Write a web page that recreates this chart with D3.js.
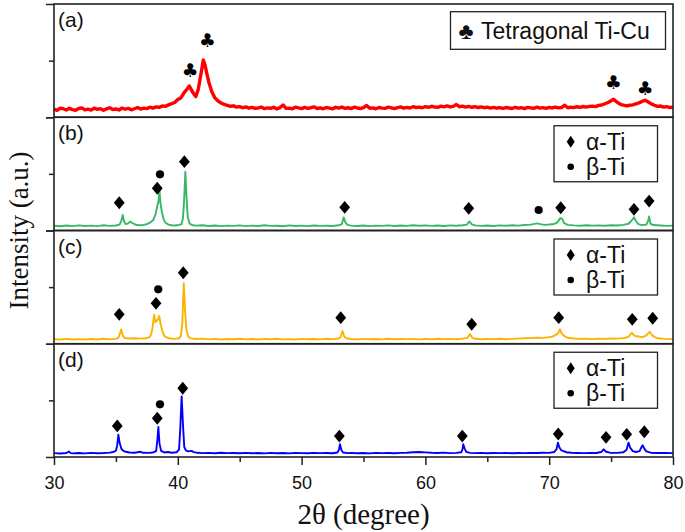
<!DOCTYPE html>
<meta charset="utf-8">
<style>
body { margin: 0; background-color: #fff; }
.axis path { display: none; }
.axis line { stroke: #222; stroke-width: 1.5px; }
.axis text { font: 18px "Liberation Sans", Arial, sans-serif; fill: #111; }
.frame { fill: none; stroke: #222; stroke-width: 1.6px; }
.trace { fill: none; stroke-linejoin: round; }
.plabel { font: 21px "Liberation Sans", Arial, sans-serif; fill: #111; }
.legend rect { fill: #fff; stroke: #222; stroke-width: 1.3px; }
.legend text { font: 23px "Liberation Sans", Arial, sans-serif; fill: #111; }
.club { font: 19px "DejaVu Sans", sans-serif; fill: #000; }
.xtitle { font: 29px "Liberation Serif", "Times New Roman", serif; fill: #111; }
.ytitle { font: 27px "Liberation Serif", "Times New Roman", serif; fill: #111; }
</style>
<body>
<svg width="685" height="532"></svg>
<script src="https://d3js.org/d3.v7.min.js"></script>
<script>

// ---- data (intensity in % of panel height) ----
var xMajor = [30, 40, 50, 60, 70, 80];
var xMinor = [35, 45, 55, 65, 75];
var panelLabels = ["(a)", "(b)", "(c)", "(d)"];
var traceColors = ["#ff0000", "#37b866", "#fdb200", "#0000ff"];

var traceA = [[30,7.2],[30.25,6.1],[30.5,8.0],[30.75,7.5],[31,6.4],[31.25,7.9],[31.5,6.8],[31.75,6.2],[32,7.7],[32.25,8.3],[32.5,6.5],[32.75,7.1],[33,6.3],[33.25,8.1],[33.5,7.0],[33.75,7.6],[34,6.2],[34.25,7.4],[34.5,8.4],[34.75,6.9],[35,7.3],[35.25,6.4],[35.5,8.2],[35.75,7.1],[36,7.8],[36.25,6.6],[36.5,7.5],[36.75,8.6],[37,7.2],[37.25,8.0],[37.5,7.6],[37.75,8.9],[38,8.1],[38.25,9.2],[38.5,8.7],[38.75,10.0],[39,9.6],[39.25,10.9],[39.5,12.0],[39.75,13.0],[40,15.7],[40.25,17.1],[40.5,21.5],[40.75,24.9],[40.93,27.6],[41.1,24.2],[41.25,21.3],[41.45,18.2],[41.65,24.5],[41.85,36.8],[42.06,50.5],[42.2,46.1],[42.35,38.4],[42.5,31.2],[42.75,22.6],[43,17.1],[43.25,14.3],[43.5,12.6],[43.75,11.4],[44,10.5],[44.25,9.7],[44.5,10.1],[44.75,9.0],[45,9.4],[45.25,8.4],[45.5,9.1],[45.75,8.0],[46,8.8],[46.25,7.9],[46.5,8.2],[46.75,9.0],[47,7.6],[47.25,8.3],[47.5,7.9],[47.75,8.8],[48,7.4],[48.25,8.5],[48.5,10.8],[48.75,7.8],[49,8.1],[49.25,7.5],[49.5,8.9],[49.75,8.2],[50,7.6],[50.25,8.7],[50.5,7.9],[50.75,8.4],[51,9.2],[51.25,7.7],[51.5,8.3],[51.75,7.5],[52,8.6],[52.25,8.0],[52.5,7.4],[52.75,8.8],[53,8.1],[53.25,9.0],[53.5,7.8],[53.75,8.4],[54,7.6],[54.25,8.9],[54.5,8.2],[54.75,7.7],[55,8.5],[55.25,10.4],[55.5,7.9],[55.75,8.3],[56,7.5],[56.25,8.6],[56.5,8.1],[56.75,7.8],[57,8.9],[57.25,8.3],[57.5,7.7],[57.75,8.5],[58,9.1],[58.25,8.0],[58.5,8.7],[58.75,8.2],[59,9.3],[59.25,8.6],[59.5,9.0],[59.75,8.4],[60,9.4],[60.25,8.8],[60.5,9.7],[60.75,9.0],[61,8.7],[61.25,9.8],[61.5,9.2],[61.75,10.0],[62,9.1],[62.25,9.6],[62.5,11.2],[62.75,9.3],[63,9.9],[63.25,9.0],[63.5,9.6],[63.75,8.8],[64,9.4],[64.25,8.6],[64.5,9.2],[64.75,8.4],[65,8.9],[65.25,8.1],[65.5,8.7],[65.75,8.0],[66,8.5],[66.25,7.8],[66.5,8.6],[66.75,8.2],[67,7.7],[67.25,8.8],[67.5,8.0],[67.75,8.4],[68,7.6],[68.25,8.7],[68.5,8.3],[68.75,7.9],[69,8.9],[69.25,8.1],[69.5,8.5],[69.75,7.8],[70,8.7],[70.25,8.2],[70.5,9.0],[70.75,8.3],[71,8.6],[71.25,10.6],[71.5,8.4],[71.75,8.9],[72,8.5],[72.25,9.3],[72.5,8.7],[72.75,9.5],[73,8.9],[73.25,9.6],[73.5,9.8],[73.75,9.4],[74,10.5],[74.25,10.8],[74.5,11.9],[74.75,13.0],[75,14.6],[75.2,16.0],[75.4,14.0],[75.6,12.4],[75.8,11.2],[76,10.7],[76.25,10.0],[76.5,10.6],[76.75,10.9],[77,11.8],[77.25,12.7],[77.5,14.0],[77.75,15.0],[78,13.5],[78.25,11.8],[78.5,10.6],[78.75,9.6],[79,9.9],[79.25,8.9],[79.5,9.4],[79.75,8.6],[80,9.0]];

var traceB = [[30,4.2],[30.5,3.8],[31,4.4],[31.5,3.9],[32,4.5],[32.5,4.0],[33,4.3],[33.5,3.9],[34,4.6],[34.5,4.1],[35,4.4],[35.3,5.2],[35.45,9.0],[35.55,13.7],[35.65,8.2],[35.8,5.6],[36,6.3],[36.15,7.8],[36.35,6.4],[36.6,5.1],[36.9,4.6],[37.2,4.9],[37.5,5.6],[37.75,6.9],[38,9.0],[38.2,14.2],[38.35,22.0],[38.45,26.0],[38.52,35.6],[38.6,24.3],[38.7,17.2],[38.85,10.1],[39,6.8],[39.25,5.2],[39.5,4.6],[39.8,4.4],[40.1,4.9],[40.3,5.6],[40.42,11.0],[40.52,29.0],[40.61,52.0],[40.7,30.5],[40.8,12.4],[40.95,6.1],[41.2,4.6],[41.5,4.3],[42,4.6],[42.5,4.0],[43,4.4],[43.5,3.9],[44,4.3],[44.5,4.1],[45,4.5],[45.5,3.9],[46,4.3],[46.5,4.0],[47,4.6],[47.5,4.1],[48,4.2],[48.5,3.8],[49,4.5],[49.5,4.0],[50,4.3],[50.5,3.9],[51,4.4],[51.5,4.1],[52,4.2],[52.5,4.0],[53,4.6],[53.25,5.6],[53.4,11.6],[53.55,7.0],[53.7,5.0],[54,4.3],[54.5,4.0],[55,4.4],[55.5,3.9],[56,4.3],[56.5,4.1],[57,4.5],[57.5,4.0],[58,4.4],[58.5,4.1],[59,4.6],[59.5,4.2],[60,4.5],[60.5,4.1],[61,4.4],[61.5,4.0],[62,4.5],[62.5,4.2],[63,4.6],[63.35,5.2],[63.55,8.0],[63.75,5.4],[64,4.5],[64.5,4.1],[65,4.4],[65.5,4.0],[66,4.5],[66.5,4.2],[67,4.6],[67.5,4.3],[68,4.8],[68.5,5.2],[68.8,5.8],[69,6.3],[69.3,5.6],[69.6,5.0],[70,5.3],[70.4,5.8],[70.65,7.0],[70.8,9.4],[70.9,11.0],[71.05,10.2],[71.2,6.5],[71.5,5.0],[72,4.5],[72.5,4.2],[73,4.6],[73.5,4.3],[74,4.5],[74.5,4.2],[75,4.6],[75.5,4.4],[76,5.0],[76.4,6.0],[76.65,8.6],[76.85,11.6],[77.0,8.4],[77.2,5.6],[77.5,4.8],[77.85,5.2],[78.0,9.0],[78.07,12.5],[78.18,6.0],[78.4,4.8],[79,4.4],[79.5,4.1],[80,4.3]];

var traceC = [[30,4.0],[30.5,3.7],[31,4.3],[31.5,3.8],[32,4.1],[32.5,3.7],[33,4.2],[33.5,3.8],[34,4.4],[34.5,3.9],[35,4.3],[35.2,5.2],[35.32,9.0],[35.42,12.7],[35.55,7.4],[35.7,5.1],[36,4.6],[36.5,4.9],[37,4.5],[37.4,4.8],[37.7,5.8],[37.85,8.2],[37.97,15.0],[38.08,25.4],[38.2,19.2],[38.32,20.5],[38.42,22.0],[38.5,24.5],[38.6,18.0],[38.75,11.2],[38.9,7.1],[39.1,5.5],[39.4,4.6],[39.8,4.3],[40.1,4.8],[40.25,7.0],[40.36,18.0],[40.48,53.4],[40.58,30.0],[40.7,12.0],[40.85,6.2],[41.05,4.7],[41.5,4.2],[42,4.5],[42.5,3.9],[43,4.3],[43.5,3.8],[44,4.2],[44.5,4.0],[45,4.4],[45.5,3.9],[46,4.2],[46.5,3.8],[47,4.3],[47.5,4.0],[48,4.4],[48.5,3.9],[49,4.1],[49.5,3.8],[50,4.3],[50.5,4.0],[51,4.2],[51.5,3.9],[52,4.4],[52.5,4.1],[53,4.6],[53.15,5.8],[53.3,11.3],[53.45,6.2],[53.6,4.8],[54,4.2],[54.5,3.9],[55,4.3],[55.5,4.0],[56,4.2],[56.5,3.9],[57,4.4],[57.5,4.0],[58,4.3],[58.5,4.1],[59,4.2],[59.5,3.9],[60,4.3],[60.5,4.0],[61,4.4],[61.5,4.1],[62,4.3],[62.5,4.0],[63,4.5],[63.4,5.2],[63.6,8.6],[63.78,5.4],[64,4.4],[64.5,4.0],[65,4.3],[65.5,4.1],[66,4.4],[66.5,4.0],[67,4.3],[67.5,4.5],[68,4.8],[68.5,5.0],[69,5.4],[69.5,5.2],[70,5.8],[70.25,6.3],[70.5,7.6],[70.7,9.1],[70.87,12.7],[71.0,9.2],[71.2,7.0],[71.5,5.3],[72,4.6],[72.5,4.3],[73,4.4],[73.5,4.1],[74,4.5],[74.5,4.3],[75,4.6],[75.5,4.5],[76,5.0],[76.4,6.0],[76.66,9.7],[76.9,7.0],[77.2,6.4],[77.5,5.8],[77.8,7.0],[77.95,8.5],[78.1,10.6],[78.3,7.8],[78.5,6.0],[78.8,4.8],[79.3,4.3],[80,4.1]];

var traceD = [[30,3.4],[30.5,3.1],[31,3.5],[31.2,4.8],[31.35,3.4],[31.5,3.2],[32,3.5],[32.5,3.2],[33,3.6],[33.5,3.3],[34,3.5],[34.5,3.9],[34.8,4.4],[35.0,5.6],[35.1,10.0],[35.2,19.6],[35.3,12.5],[35.45,7.0],[35.6,5.5],[35.8,4.6],[36.1,4.0],[36.5,3.8],[37,4.6],[37.2,3.7],[37.6,3.6],[38.0,4.0],[38.25,5.2],[38.35,15.0],[38.43,26.5],[38.52,12.0],[38.65,5.4],[38.9,4.0],[39.2,4.4],[39.5,3.8],[39.9,4.2],[40.1,6.5],[40.2,25.0],[40.31,53.5],[40.42,28.0],[40.52,9.0],[40.65,5.8],[40.85,5.0],[41.1,5.4],[41.3,4.3],[41.6,3.7],[42,3.4],[42.5,3.6],[43,3.3],[43.5,3.7],[44,3.4],[44.5,3.5],[45,3.3],[45.5,3.6],[46,3.3],[46.5,3.5],[47,3.2],[47.5,3.6],[48,3.3],[48.5,3.5],[49,3.2],[49.5,3.6],[50,3.4],[50.5,3.3],[51,3.6],[51.5,3.4],[52,3.5],[52.5,3.3],[52.9,4.0],[53.02,6.5],[53.1,11.3],[53.22,6.0],[53.35,4.0],[53.7,3.4],[54,3.6],[54.5,3.3],[55,3.5],[55.5,3.2],[56,3.6],[56.5,3.4],[57,3.5],[57.5,3.3],[58,3.6],[58.5,3.8],[59,4.2],[59.5,4.4],[60,4.1],[60.5,3.7],[61,3.5],[61.5,3.9],[62,3.4],[62.5,3.6],[62.9,4.2],[63.0,7.0],[63.06,11.3],[63.18,7.2],[63.3,4.6],[63.6,3.6],[64,3.4],[64.5,3.6],[65,3.3],[65.5,3.5],[66,3.4],[66.5,3.6],[67,3.3],[67.5,3.5],[68,3.4],[68.5,3.6],[69,3.5],[69.5,3.8],[70,3.6],[70.4,4.4],[70.6,7.0],[70.7,12.7],[70.82,8.5],[70.95,6.2],[71.1,5.4],[71.4,4.2],[71.8,3.7],[72.3,3.5],[72.8,3.4],[73.3,3.6],[73.8,3.5],[74.2,4.4],[74.4,6.8],[74.6,4.6],[74.9,3.8],[75.5,3.6],[76.0,4.2],[76.25,6.4],[76.4,12.7],[76.55,8.0],[76.75,5.2],[77.0,4.4],[77.3,5.2],[77.45,8.6],[77.55,10.4],[77.68,7.4],[77.85,5.0],[78.2,3.8],[78.7,3.5],[79.3,3.6],[80,3.4]];

// peak markers: [2theta, height]
var clubsA = [[40.99,41.7],[42.38,68.2],[75.18,31.4],[77.74,25.6]];
var alphaB = [[35.27,24.5],[38.34,37.3],[40.53,60.8],[53.48,20.5],[63.5,19.6],[70.93,20.1],[76.85,18.7],[78.07,26.0]];
var betaB  = [[38.56,49.6],[69.15,18.1]];
var alphaC = [[35.27,26.0],[38.24,35.7],[40.44,62.7],[53.16,23.0],[63.74,17.2],[70.77,23.0],[76.71,21.6],[78.36,22.5]];
var betaC  = [[38.42,48.1]];
var alphaD = [[35.11,27.4],[38.34,34.2],[40.4,60.7],[53.05,18.5],[62.98,18.5],[70.73,20.3],[74.59,17.4],[76.26,20.0],[77.68,22.3]];
var betaD  = [[38.56,46.5]];

var panels = [
  {trace: traceA, clubs: clubsA, alpha: [], beta: []},
  {trace: traceB, clubs: [], alpha: alphaB, beta: betaB},
  {trace: traceC, clubs: [], alpha: alphaC, beta: betaC},
  {trace: traceD, clubs: [], alpha: alphaD, beta: betaD}
];

// ---- layout ----
var left = 54, right = 673, top0 = 4, bottom = 457;
var ph = (bottom - top0) / panels.length;

var svg = d3.select("svg");
var x = d3.scaleLinear().domain([30, 80]).range([left, right]);

function diamond(w, h) {
  return "M0," + (-h) + "L" + w + ",0L0," + h + "L" + (-w) + ",0Z";
}

panels.forEach(function(p, i) {
  var pt = top0 + i * ph, pb = pt + ph;
  var y = d3.scaleLinear().domain([0, 100]).range([pb, pt]);

  var line = d3.line()
    .x(function(d) { return x(d[0]); })
    .y(function(d) { return y(d[1]); });

  svg.append("path")
    .datum(p.trace)
    .attr("class", "trace")
    .attr("stroke", traceColors[i])
    .attr("stroke-width", i == 0 ? 3.4 : 1.9)
    .attr("d", line);

  // y ticks (no labels)
  svg.append("g").attr("class", "axis")
    .attr("transform", "translate(" + left + ",0)")
    .call(d3.axisLeft(y).tickValues([0, 100]).tickSize(8).tickFormat(""));
  svg.append("g").attr("class", "axis")
    .attr("transform", "translate(" + left + ",0)")
    .call(d3.axisLeft(y).tickValues([50]).tickSize(5).tickFormat(""));

  svg.append("rect").attr("class", "frame")
    .attr("x", left).attr("y", pt)
    .attr("width", right - left).attr("height", ph);

  svg.append("text").attr("class", "plabel")
    .attr("x", left + 4).attr("y", pt + 23)
    .text(panelLabels[i]);

  // markers
  svg.selectAll(null).data(p.clubs).enter().append("text")
    .attr("class", "club")
    .attr("text-anchor", "middle")
    .attr("x", function(d) { return x(d[0]); })
    .attr("y", function(d) { return y(d[1]); })
    .attr("dy", "0.36em")
    .text("\u2663");

  svg.selectAll(null).data(p.alpha).enter().append("path")
    .attr("d", diamond(5.4, 6.4))
    .attr("fill", "#000")
    .attr("transform", function(d) { return "translate(" + x(d[0]) + "," + y(d[1]) + ")"; });

  svg.selectAll(null).data(p.beta).enter().append("circle")
    .attr("r", 4.1)
    .attr("fill", "#000")
    .attr("cx", function(d) { return x(d[0]); })
    .attr("cy", function(d) { return y(d[1]); });

  // legends
  var lg = svg.append("g").attr("class", "legend");
  if (i == 0) {
    lg.append("rect").attr("x", 450.5).attr("y", pt + 7.7).attr("width", 215).attr("height", 37.6);
    lg.append("text").attr("class", "club").attr("text-anchor", "middle")
      .attr("x", 466).attr("y", pt + 26.5).attr("dy", "0.36em").text("\u2663");
    lg.append("text").attr("x", 481).attr("y", pt + 34.5).text("Tetragonal Ti-Cu");
  } else {
    lg.append("rect").attr("x", 554).attr("y", pt + 8.5).attr("width", 103.5).attr("height", 56);
    lg.append("path").attr("d", diamond(4, 6)).attr("fill", "#000")
      .attr("transform", "translate(570.7," + (pt + 24.5) + ")");
    lg.append("circle").attr("r", 3.3).attr("fill", "#000")
      .attr("cx", 570.7).attr("cy", pt + 49.5);
    lg.append("text").attr("x", 586).attr("y", pt + 32.5).text("\u03b1-Ti");
    lg.append("text").attr("x", 586).attr("y", pt + 57.5).text("\u03b2-Ti");
  }
});

// x axis
svg.append("g").attr("class", "axis")
  .attr("transform", "translate(0," + bottom + ")")
  .call(d3.axisBottom(x).tickValues(xMajor).tickSize(8).tickPadding(11));
svg.append("g").attr("class", "axis")
  .attr("transform", "translate(0," + bottom + ")")
  .call(d3.axisBottom(x).tickValues(xMinor).tickSize(5).tickFormat(""));

svg.append("text").attr("class", "xtitle")
  .attr("text-anchor", "middle")
  .attr("x", (left + right) / 2).attr("y", 524)
  .text("2\u03b8 (degree)");

svg.append("text").attr("class", "ytitle")
  .attr("text-anchor", "middle")
  .attr("transform", "translate(28," + ((top0 + bottom) / 2) + ")rotate(-90)")
  .text("Intensity (a.u.)");

</script>
</body>
